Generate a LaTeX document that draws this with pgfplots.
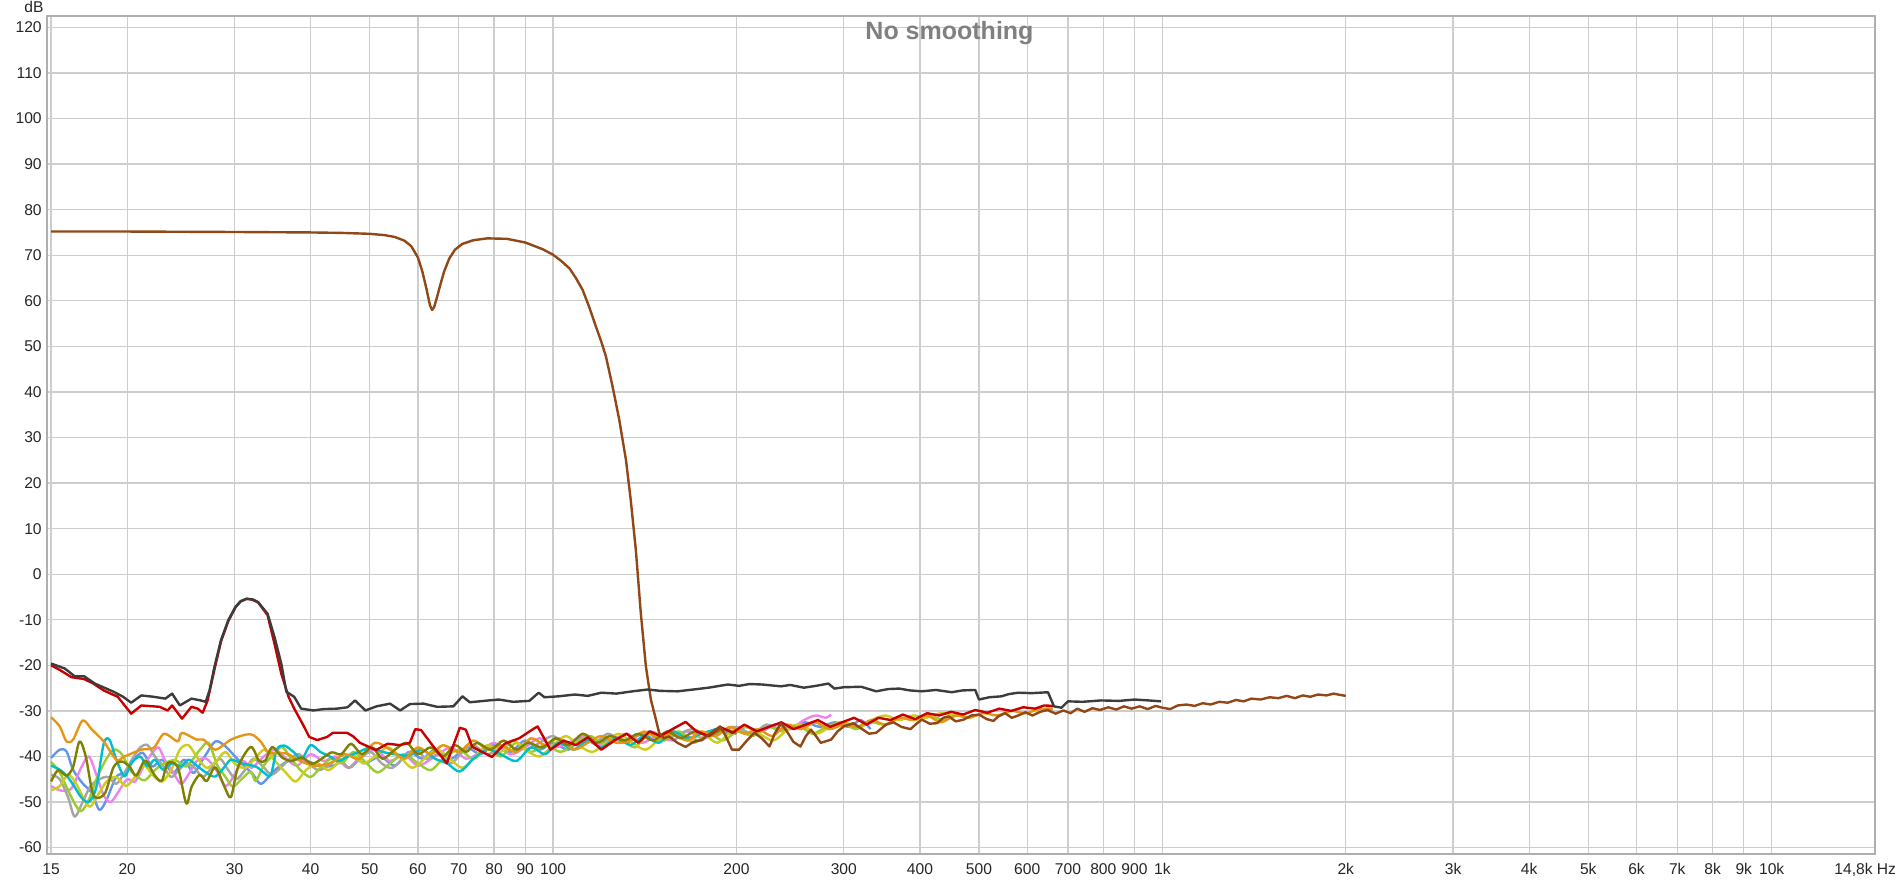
\documentclass[border=0pt]{standalone}
\usepackage{fontspec}
\setmainfont{Liberation Sans}
\usepackage{pgfplots}
\pgfplotsset{compat=1.18}
\definecolor{cbrown}{RGB}{145,72,22}
\definecolor{cdark}{RGB}{60,60,60}
\definecolor{cred}{RGB}{200,0,0}
\definecolor{corange}{RGB}{230,150,20}
\definecolor{cblue}{RGB}{100,149,237}
\definecolor{cpink}{RGB}{238,130,238}
\definecolor{cgray}{RGB}{165,165,165}
\definecolor{clime}{RGB}{154,205,50}
\definecolor{cyellow}{RGB}{205,205,30}
\definecolor{ccyan}{RGB}{0,190,205}
\definecolor{colive}{RGB}{128,128,0}
\definecolor{gridgray}{RGB}{205,205,205}
\definecolor{framegray}{RGB}{175,175,175}
\definecolor{titlegray}{RGB}{128,128,128}
\begin{document}
\begin{tikzpicture}
\path[use as bounding box] (-23.5pt,-12.5pt) rectangle (926pt,427pt);
\begin{axis}[
 at={(0,0)}, anchor=south west,
 scale only axis, width=914pt, height=419pt,
 xmode=log, xmin=14.77, xmax=14780, ymin=-61.4, ymax=122.5,
 xtick={15,20,30,40,50,60,70,80,90,100,200,300,400,500,600,700,800,900,1000,2000,3000,4000,5000,6000,7000,8000,9000,10000,14780},
 xticklabels={15,20,30,40,50,60,70,80,90,100,200,300,400,500,600,700,800,900,1k,2k,3k,4k,5k,6k,7k,8k,9k,10k,{\makebox[0pt][r]{14,8k Hz\hspace*{-10.5pt}}}},
 ytick={-60,-50,-40,-30,-20,-10,0,10,20,30,40,50,60,70,80,90,100,110,120},
 yticklabels={-60,-50,-40,-30,-20,-10,0,10,20,30,40,50,60,70,80,90,100,110,120},
 grid=major, major grid style={draw=gridgray, line width=0.7pt},
 major tick length=0pt, minor tick length=0pt,
 axis line style={draw=framegray, line width=1.3pt},
 tick label style={font=\fontsize{7.8}{8}\selectfont, text=black!85},
 xticklabel style={inner sep=0pt, yshift=-4.5pt},
 yticklabel style={inner sep=0pt, xshift=-2.5pt},
 every axis plot/.append style={line width=1.2pt, line join=round},
]
% blue
\addplot[cblue, smooth] coordinates {(15,-40.3) (15.5,-38.5) (15.9,-38.9) (16.3,-42.9) (16.9,-45.9) (17.5,-48.0) (18.0,-51.7) (18.5,-49.5) (19.2,-44.4) (19.9,-43.6) (20.5,-40.7) (21.2,-39.2) (22.0,-42.2) (22.8,-40.7) (23.8,-43.6) (24.8,-40.7) (25.7,-43.6) (26.8,-40.0) (27.9,-36.7) (29.0,-37.8) (30.4,-40.7) (32.2,-44.0) (33.2,-46.0) (35.0,-42.9) (37.2,-40.7) (39.5,-41.0) (41.7,-42.2) (44.0,-41.8) (46.5,-39.5) (49,-41.5) (52,-40.0) (55,-42.0) (58,-39.0) (61,-40.5) (64,-38.5) (68,-40.5) (72,-38.0) (76,-39.5) (80,-37.5) (85,-39.0) (90,-36.5) (95,-38.5) (100,-37.0) (106,-38.5) (112,-35.5) (118,-37.5) (125,-36.0) (132,-37.0) (140,-35.0) (148,-36.5) (156,-34.5) (165,-35.5) (175,-36.5) (185,-34.0) (196,-35.0) (207,-33.5) (219,-34.5) (232,-33.0) (245,-34.0) (259,-32.5) (274,-33.5) (290,-32.5) (306,-33.5) (320,-32.0) (332,-34.0)};
% pink
\addplot[cpink, smooth] coordinates {(15,-46.5) (15.6,-47.5) (16.2,-47.0) (16.8,-42.5) (17.3,-40.0) (17.8,-44.0) (18.3,-48.5) (18.8,-50.0) (19.4,-47.5) (20.0,-45.0) (20.6,-45.5) (21.3,-42.0) (21.9,-39.5) (22.5,-38.0) (23.1,-41.0) (23.8,-43.5) (24.5,-46.0) (25.2,-44.0) (26,-41.0) (27,-40.5) (28,-43.0) (29,-46.5) (30,-44.0) (31,-41.0) (32,-42.5) (33.5,-40.0) (35,-38.5) (36.5,-40.5) (38,-42.0) (40,-39.5) (42,-41.0) (44,-40.0) (46,-42.5) (48,-40.5) (51,-38.5) (54,-41.0) (57,-39.5) (60,-42.0) (64,-40.0) (68,-38.0) (72,-40.5) (76,-39.0) (80,-37.0) (85,-39.5) (90,-38.0) (95,-36.0) (100,-38.0) (106,-37.0) (112,-35.5) (118,-37.5) (125,-36.5) (132,-35.0) (140,-37.0) (148,-35.5) (157,-36.5) (166,-34.5) (176,-36.0) (186,-35.0) (197,-33.5) (208,-35.0) (220,-34.5) (232,-33.0) (245,-34.0) (258,-32.0) (270,-31.0) (280,-31.5) (286,-30.8)};
% light gray
\addplot[cgray, smooth] coordinates {(15,-44.0) (15.5,-45.0) (16,-49.0) (16.4,-53.2) (16.9,-50.0) (17.4,-46.5) (18,-45.0) (18.6,-44.5) (19.2,-46.0) (19.8,-43.5) (20.4,-40.5) (21,-38.0) (21.6,-37.5) (22.2,-40.0) (22.9,-42.0) (23.6,-44.5) (24.3,-43.0) (25,-41.5) (25.8,-42.5) (26.6,-44.5) (27.5,-42.5) (28.4,-40.5) (29.3,-43.0) (30.2,-45.0) (31.2,-43.0) (32.2,-40.5) (33.3,-42.0) (34.5,-44.0) (35.7,-42.5) (37,-40.5) (38.3,-39.5) (39.7,-41.5) (41.2,-43.0) (42.8,-42.0) (44.5,-40.5) (46.3,-42.5) (48.2,-40.5) (50.2,-39.0) (52.3,-41.5) (54.5,-42.5) (57,-40.0) (59.5,-38.5) (62,-40.5) (65,-39.5) (68,-41.5) (71,-39.0) (74,-37.5) (78,-39.5) (82,-38.0) (86,-36.5) (90,-38.5) (95,-37.0) (100,-35.5) (105,-37.5) (111,-36.0) (117,-37.0) (123,-35.0) (130,-36.5) (137,-35.5) (145,-34.5) (153,-36.0) (161,-35.0) (170,-34.0) (180,-35.5) (190,-34.5) (200,-33.5) (212,-35.0) (224,-33.0) (236,-34.0) (250,-33.5)};
% lime
\addplot[clime, smooth] coordinates {(15,-41.2) (15.5,-43.5) (15.9,-46.7) (16.4,-50.3) (16.8,-52.0) (17.3,-49.5) (17.8,-45.0) (18.4,-41.0) (19.0,-38.5) (19.6,-39.5) (20.2,-42.9) (20.8,-44.5) (21.4,-45.2) (22.2,-43.0) (23.0,-41.5) (24.0,-40.8) (25.0,-42.2) (26.3,-38.6) (27.2,-37.0) (28.1,-41.9) (29.0,-44.5) (29.8,-46.6) (30.8,-45.0) (31.9,-43.3) (32.5,-45.4) (33.5,-42.0) (34.8,-39.5) (35.9,-37.9) (37.2,-40.5) (38.5,-43.0) (40,-44.5) (41.5,-42.5) (43.2,-40.5) (45,-41.5) (47,-39.0) (49,-41.0) (51.5,-43.5) (54,-41.5) (57,-39.5) (60,-41.5) (63,-43.0) (66,-40.5) (70,-38.5) (74,-40.5) (78,-38.0) (82,-40.0) (87,-37.0) (92,-39.0) (97,-37.5) (103,-39.0) (109,-37.0) (115,-35.5) (122,-37.5) (129,-36.0) (136,-38.0) (144,-35.0) (152,-36.5) (161,-34.5) (170,-37.0) (180,-35.0) (190,-36.5) (201,-34.5) (213,-35.5) (225,-33.5) (238,-34.5) (252,-33.0) (266,-35.0) (281,-33.5) (297,-32.5) (314,-34.0) (332,-32.5) (351,-33.0) (371,-31.5) (392,-32.0) (414,-31.0) (437,-32.0) (460,-31.0) (480,-31.5)};
% yellow
\addplot[cyellow, smooth] coordinates {(15,-47.4) (15.5,-46.5) (16.0,-44.0) (16.5,-46.0) (17.0,-49.5) (17.4,-51.0) (17.9,-48.5) (18.5,-45.5) (19.2,-44.5) (19.9,-46.5) (20.6,-44.5) (21.3,-42.0) (22.0,-44.0) (22.8,-45.5) (23.6,-43.0) (24.4,-38.5) (25.2,-37.5) (26.0,-40.0) (27.0,-42.5) (28.0,-41.0) (29.0,-39.0) (30.0,-41.5) (31.2,-42.5) (32.4,-40.5) (33.6,-38.5) (35.0,-41.0) (36.4,-43.5) (37.8,-45.5) (39.3,-43.0) (41,-41.5) (42.8,-43.0) (44.7,-41.0) (46.7,-39.5) (48.8,-41.5) (51,-40.0) (53.5,-38.0) (56,-40.0) (58.7,-42.5) (61.5,-40.5) (64.5,-38.5) (67.7,-40.5) (71,-42.5) (74.5,-40.0) (78,-37.5) (82,-39.0) (86,-36.5) (90,-38.5) (95,-40.0) (100,-37.5) (105,-35.5) (110,-37.5) (116,-39.0) (122,-37.0) (128,-35.0) (135,-37.0) (142,-38.5) (150,-36.0) (158,-34.5) (167,-36.5) (176,-35.0) (186,-37.0) (196,-34.5) (207,-33.5) (218,-35.0) (230,-36.5) (243,-34.0) (256,-33.0) (270,-35.0) (285,-33.5) (300,-32.5) (316,-33.5) (333,-32.0) (351,-31.0) (370,-32.0) (390,-31.0) (410,-31.5) (432,-30.5) (455,-31.0)};
% cyan
\addplot[ccyan, smooth] coordinates {(15,-42.0) (15.5,-42.9) (15.95,-44.4) (16.4,-46.7) (16.8,-48.9) (17.3,-50.0) (17.8,-46.7) (18.3,-37.2) (18.7,-36.3) (19.2,-40.7) (19.8,-44.4) (20.3,-41.5) (21.0,-40.0) (21.6,-42.2) (22.2,-40.7) (22.9,-42.9) (23.7,-41.5) (24.5,-42.2) (25.2,-40.7) (26.0,-42.0) (27.0,-43.6) (27.9,-44.4) (28.8,-42.5) (29.6,-40.7) (30.8,-41.5) (32.5,-42.2) (33.5,-43.5) (34.4,-44.1) (35.2,-38.5) (36.2,-37.6) (37.5,-39.0) (38.7,-40.5) (40,-37.5) (41.5,-39.0) (43,-40.0) (44.5,-41.0) (46,-40.0) (48,-39.0) (50,-38.1) (52.5,-39.0) (55,-39.5) (58,-39.8) (61,-38.5) (64,-40.5) (67,-41.5) (70.3,-43.3) (74,-40.5) (78,-38.5) (82,-39.5) (87,-41.0) (92,-38.0) (97,-39.5) (102,-37.0) (108,-38.5) (114,-36.5) (120,-38.0) (127,-36.0) (134,-37.5) (141,-35.5) (149,-37.0) (157,-34.5) (166,-36.0) (175,-35.0) (185,-34.0)};
% orange
\addplot[corange, smooth] coordinates {(15,-31.4) (15.5,-33.4) (15.9,-36.7) (16.3,-36.3) (16.9,-32.1) (17.5,-34.1) (18.3,-36.7) (19.2,-40.7) (19.8,-40.0) (21.1,-38.5) (22.1,-38.1) (23.0,-35.0) (24.2,-36.7) (24.6,-34.8) (26.0,-36.3) (26.7,-36.3) (27.9,-38.5) (29.6,-36.3) (31.3,-35.2) (32.2,-35.3) (33.2,-36.9) (34.2,-39.2) (36.4,-39.3) (38.5,-41.0) (40.5,-42.0) (43,-41.5) (45.5,-39.5) (48,-40.5) (51,-37.0) (54,-38.5) (57,-40.5) (60,-38.0) (63,-39.5) (66,-37.5) (70,-39.0) (74,-36.5) (78,-38.5) (82,-37.5) (87,-39.0) (92,-36.0) (97,-37.5) (102,-36.0) (108,-38.5) (114,-37.0) (120,-35.5) (127,-37.0) (134,-36.5) (141,-34.5) (149,-36.0) (157,-35.0) (166,-36.5) (175,-34.5) (185,-35.5) (195,-33.5) (206,-35.0) (217,-34.0) (229,-35.5) (242,-33.0) (255,-34.0) (269,-32.5) (284,-34.0) (300,-33.0) (316,-33.5) (333,-32.0) (351,-33.0) (370,-31.5) (390,-32.0) (411,-31.0) (433,-32.5) (457,-31.0) (482,-31.5) (508,-30.5) (536,-31.0) (565,-30.0) (596,-30.5) (628,-29.6) (661,-29.5)};
% olive
\addplot[colive, smooth] coordinates {(15,-45.5) (15.4,-43.0) (15.9,-44.2) (16.3,-42.3) (16.7,-36.7) (17.1,-40.0) (17.5,-47.3) (17.8,-49.1) (18.4,-48.0) (19.0,-42.3) (19.6,-41.1) (20.2,-42.3) (20.7,-44.2) (21.4,-40.9) (22.2,-44.2) (22.8,-45.3) (23.3,-41.5) (24.2,-42.3) (25.0,-50.3) (25.5,-46.7) (26.3,-44.0) (27.0,-45.4) (27.9,-42.4) (28.9,-46.7) (29.6,-48.9) (30.4,-42.3) (31.9,-37.9) (32.9,-40.9) (33.7,-40.9) (34.6,-37.9) (35.9,-40.2) (37.2,-41.0) (38.7,-40.2) (40.2,-41.6) (41.7,-40.5) (43.3,-39.1) (44.9,-39.5) (46.6,-37.2) (48.5,-39.5) (50.5,-38.0) (52.5,-40.5) (55,-38.5) (57.5,-37.0) (60,-39.5) (63,-38.0) (66,-40.0) (69,-37.5) (72,-39.0) (75,-37.0) (79,-38.5) (83,-36.5) (87,-38.5) (91,-37.0) (96,-38.0) (101,-36.0) (106,-37.5) (112,-35.0) (118,-37.0) (124,-35.5) (131,-36.5) (138,-35.0) (146,-36.5) (154,-34.5) (162,-36.0) (171,-34.5) (180,-35.5) (190,-34.0) (200,-35.0)};
% red
\addplot[cred] coordinates {(15,-20.0) (15.5,-21.0) (16.2,-22.6) (17.0,-23.0) (17.6,-24.0) (18.3,-25.5) (19.3,-26.9) (20.3,-30.6) (21.1,-28.8) (22.6,-29.1) (23.3,-29.9) (23.7,-28.8) (24.6,-31.7) (25.5,-29.1) (26.1,-29.5) (26.6,-30.4) (27.1,-27.7) (27.8,-21.0) (28.5,-14.8) (29.3,-10.3) (30.1,-7.3) (30.7,-6.0) (31.4,-5.4) (32.1,-5.6) (32.8,-6.2) (34.0,-9.0) (34.9,-15.3) (35.8,-21.8) (36.8,-26.9) (37.6,-29.5) (38.8,-32.8) (39.8,-35.7) (41.0,-36.4) (42.6,-35.7) (43.5,-34.8) (45.9,-34.8) (47,-35.6) (48.2,-37.0) (51.2,-38.6) (53.5,-37.2) (56,-37.5) (58.2,-37.0) (59.4,-34.0) (60.7,-34.2) (63.7,-37.9) (66.9,-41.5) (70.3,-33.7) (71.9,-34.1) (73.7,-37.9) (79.4,-40.1) (83.3,-37.2) (88,-36.0) (92.2,-34.2) (94.3,-33.4) (99,-38.5) (104,-36.5) (109,-37.5) (114,-35.8) (120,-38.5) (126,-36.5) (132,-35.0) (138,-37.0) (144,-34.5) (150,-35.5) (157,-34.0) (165,-32.4) (172,-34.5) (180,-35.5) (188,-33.5) (197,-34.8) (206,-33.0) (216,-34.5) (226,-33.5) (237,-32.5) (248,-34.0) (260,-33.0) (272,-32.0) (285,-33.5) (298,-32.5) (312,-31.5) (327,-33.0) (342,-31.5) (358,-32.0) (375,-30.8) (393,-31.8) (411,-30.5) (430,-31.0) (450,-30.2) (471,-30.8) (493,-29.8) (516,-30.4) (540,-29.5) (565,-30.0) (591,-29.2) (618,-29.5) (640,-28.8) (661,-28.9)};
% brown
\addplot[cbrown] coordinates {(15,75.2) (20,75.2) (30,75.1) (40,75.0) (45,74.9) (50,74.7) (53,74.4) (55,74.0) (57,73.2) (58.5,72.0) (60,69.5) (61,66.5) (62,62.5) (62.8,59.0) (63.3,58.0) (63.8,58.6) (64.5,60.8) (65.3,63.5) (66.2,66.3) (67.5,69.2) (69,71.2) (71,72.5) (74,73.3) (78,73.7) (84,73.6) (90,72.8) (96.2,71.3) (100,70.1) (103,68.8) (106.4,67.1) (109,65.0) (111.8,62.4) (114.5,58.8) (117.6,54.3) (120,51.0) (122.1,47.8) (125.2,41.2) (128.4,33.9) (131.7,25.1) (134.1,16.3) (136.7,5.4) (139.3,-8.5) (142,-20.2) (144.7,-27.5) (147.5,-31.9) (149.3,-34.8) (152,-36.0) (155,-35.6) (160,-37.0) (165,-37.9) (170,-36.8) (175,-36.4) (181,-35.0) (188,-33.4) (192,-35.5) (196.6,-38.5) (202,-38.5) (208,-36.5) (214,-34.8) (220,-36.0) (226.6,-37.8) (231,-35.0) (236.6,-32.7) (242,-34.5) (248,-36.8) (254.7,-37.8) (260,-35.5) (265,-34.1) (270,-35.5) (275,-37.0) (286,-36.3) (293,-34.5) (300,-33.4) (311,-32.7) (320,-33.8) (330,-35.0) (339,-34.8) (352,-33.0) (362,-32.5) (373,-33.5) (386,-34.0) (395,-32.8) (403,-31.9) (415,-32.8) (427,-32.7) (437,-31.5) (446,-31.2) (458,-32.3) (472,-31.9) (486,-31.0) (500,-30.8) (515,-31.8) (528,-32.2) (538,-31.2) (552,-30.5) (566,-31.5) (580,-31.0) (596,-30.3) (612,-31.0) (630,-30.2) (648,-29.8) (668,-30.6) (688,-29.9) (707,-30.5) (725,-29.5) (745,-30.2) (768,-29.4) (790,-29.8) (815,-29.2) (840,-29.7) (865,-29.0) (890,-29.5) (918,-29.0) (946,-29.6) (975,-28.9) (1000,-29.3) (1030,-29.6) (1060,-28.8) (1095,-28.6) (1130,-28.9) (1165,-28.3) (1200,-28.6) (1240,-28.0) (1280,-28.2) (1320,-27.6) (1360,-27.9) (1400,-27.3) (1450,-27.5) (1500,-27.0) (1550,-27.2) (1600,-26.7) (1650,-27.2) (1700,-26.6) (1750,-26.9) (1800,-26.4) (1860,-26.6) (1910,-26.2) (1960,-26.5) (2000,-26.7)};
% dark gray
\addplot[cdark] coordinates {(15,-19.6) (15.8,-20.7) (16.4,-22.4) (17.0,-22.4) (17.7,-24.0) (19.0,-25.8) (19.7,-26.9) (20.3,-28.2) (21.1,-26.6) (22.1,-26.9) (23.1,-27.3) (23.7,-26.2) (24.4,-28.8) (25.5,-27.3) (26.4,-27.7) (26.9,-28.0) (27.3,-25.5) (27.8,-20.4) (28.5,-14.5) (29.3,-10.1) (30.1,-7.2) (30.7,-5.9) (31.4,-5.4) (32.1,-5.5) (32.8,-6.1) (34.0,-8.7) (34.9,-13.8) (35.8,-19.6) (36.5,-25.8) (37.6,-26.9) (38.6,-29.5) (40.4,-29.9) (42,-29.6) (44.2,-29.5) (46,-29.2) (47.3,-27.7) (49.2,-29.9) (51.3,-29.0) (54,-28.4) (56.1,-29.9) (58.2,-28.5) (61.3,-28.4) (64.5,-29.1) (68.6,-29.0) (71,-26.8) (73,-28.1) (77,-27.8) (81.4,-27.5) (86,-28.0) (91.4,-27.8) (94.7,-26.0) (96.8,-27.0) (102,-26.8) (108.6,-26.4) (114,-26.7) (120,-26.0) (127,-26.2) (135,-25.7) (143,-25.3) (150,-25.6) (160,-25.7) (170,-25.3) (180,-24.9) (193.6,-24.2) (202,-24.5) (210,-24.1) (220,-24.2) (236.7,-24.6) (245,-24.3) (258,-24.9) (270,-24.5) (283,-24.0) (289.6,-25.1) (300,-24.8) (320.5,-24.7) (339,-25.7) (355,-25.2) (370,-25.1) (385,-25.5) (403,-25.7) (425,-25.4) (451,-25.9) (470,-25.5) (493,-25.4) (500,-27.5) (520,-27.0) (544,-26.8) (560,-26.3) (580,-26.0) (610,-26.1) (649,-25.9) (664,-29.0) (683,-29.3) (700,-27.9) (740,-28.0) (793,-27.7) (850,-27.8) (900,-27.5) (950,-27.7) (995,-27.9)};
\end{axis}
\node[font=\fontsize{12.5}{14}\selectfont\bfseries, text=titlegray] at (451.25pt,410.5pt) {No smoothing};
\node[font=\fontsize{7.8}{8}\selectfont, text=black!85] at (-6.5pt,423.5pt) {dB};
\end{tikzpicture}
\end{document}
